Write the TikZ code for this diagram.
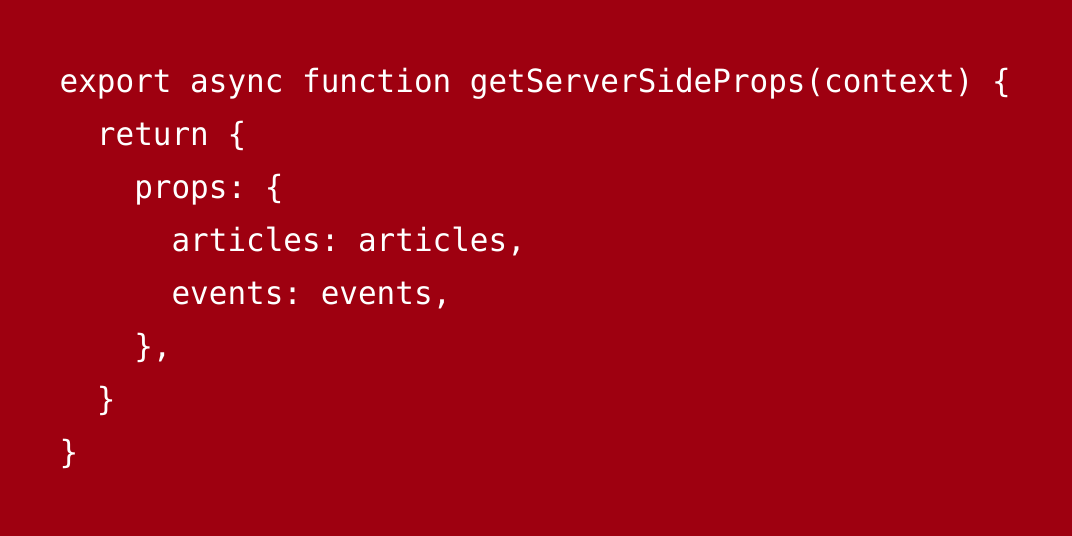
\documentclass[tikz,border=0pt]{standalone}
\usepackage{fontspec}
\setmonofont{DejaVu Sans Mono}[FakeStretch=0.968]
\definecolor{bgred}{RGB}{158,0,16}
\begin{document}
\begin{tikzpicture}[x=1pt,y=1pt,
  codeline/.style={anchor=base west,inner sep=0pt,text=white,font=\ttfamily\fontsize{32}{53}\selectfont}]
\fill[bgred] (0,0) rectangle (1072,536);
\useasboundingbox (0,0) rectangle (1072,536);
\node[codeline] (l1) at (59.5,{536-92.5}) {export async function getServerSideProps(context) \{};
\node[codeline] (l2) at (59.5,{536-145.5}) {\ \ return \{};
\node[codeline] (l3) at (59.5,{536-198.5}) {\ \ \ \ props: \{};
\node[codeline] (l4) at (59.5,{536-251.5}) {\ \ \ \ \ \ articles: articles,};
\node[codeline] (l5) at (59.5,{536-304.5}) {\ \ \ \ \ \ events: events,};
\node[codeline] (l6) at (59.5,{536-357.5}) {\ \ \ \ \},};
\node[codeline] (l7) at (59.5,{536-410.5}) {\ \ \}};
\node[codeline] (l8) at (59.5,{536-463.5}) {\}};
\end{tikzpicture}
\end{document}
